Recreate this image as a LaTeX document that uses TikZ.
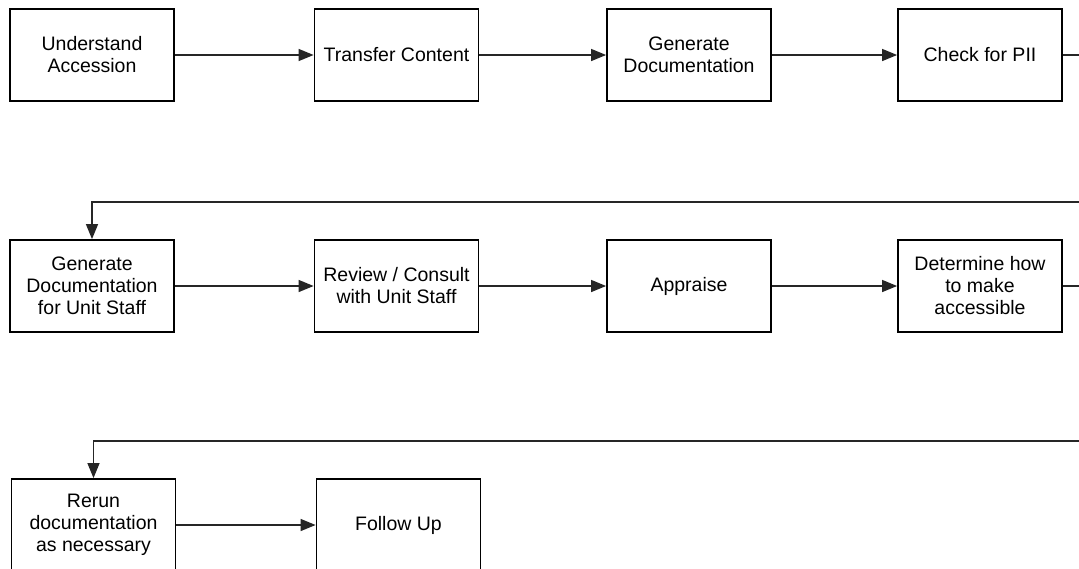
\documentclass[tikz,border=0pt]{standalone}
\usepackage{fontspec}
\setmainfont{Liberation Sans}
\usetikzlibrary{arrows.meta}
\begin{document}
\begin{tikzpicture}[x=1pt,y=-1pt,
  stepbox/.style={draw=black,line width=1.8pt,minimum width=164pt,minimum height=92pt,
    align=center,inner sep=2pt,font=\fontsize{19.5}{22}\selectfont},
  conn/.style={draw=black!85,line width=1.3pt,-{Triangle[length=15pt,width=12pt]}},
  plain/.style={draw=black!85,line width=1.3pt}]
\useasboundingbox (0,0) rectangle (1079,568);
\clip (0,0) rectangle (1079,568);
\fill[white] (0,0) rectangle (1079,568);
% row 1
\node[stepbox] (a1) at (92,55) {Understand\\Accession};
\node[stepbox] (a2) at (396.5,55) {Transfer Content};
\node[stepbox] (a3) at (689,55) {Generate\\Documentation};
\node[stepbox] (a4) at (980,55) {Check for PII};
% row 2
\node[stepbox] (b1) at (92,286) {Generate\\Documentation\\for Unit Staff};
\node[stepbox] (b2) at (396.5,286) {Review / Consult\\with Unit Staff};
\node[stepbox] (b3) at (689,286) {Appraise};
\node[stepbox] (b4) at (980,286) {Determine how\\to make\\accessible};
% row 3
\node[stepbox] (c1) at (93.5,525) {Rerun\\documentation\\as necessary};
\node[stepbox] (c2) at (398.5,525) {Follow Up};
% side turn points (outside the visible frame)
\coordinate (t1) at (1110,202);
\coordinate (t2) at (1110,441);
% connectors
\draw[conn] (a1) -- (a2);
\draw[conn] (a2) -- (a3);
\draw[conn] (a3) -- (a4);
\draw[conn] (a4.east) -| (t1) -| (b1.north);
\draw[conn] (b1) -- (b2);
\draw[conn] (b2) -- (b3);
\draw[conn] (b3) -- (b4);
\draw[conn] (b4.east) -| (t2) -| (c1.north);
\draw[conn] (c1) -- (c2);
\end{tikzpicture}
\end{document}
